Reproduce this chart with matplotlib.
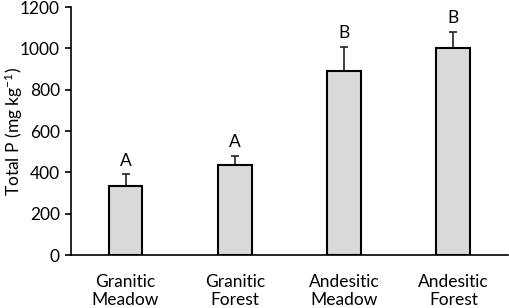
import numpy as np
import matplotlib.pyplot as plt

plt.rcParams['font.family'] = ['Lato', 'DejaVu Sans']
plt.rcParams['mathtext.default'] = 'regular'

# data
categories = ['Granitic\nMeadow', 'Granitic\nForest', 'Andesitic\nMeadow', 'Andesitic\nForest']
total_p = [333, 438, 889, 1003]
err = [57, 42, 120, 78]
letters = ['A', 'A', 'B', 'B']

fig = plt.figure(figsize=(5.10, 3.08), dpi=100)
ax = fig.add_axes([0.139, 0.172, 0.857, 0.805])

x = np.arange(len(categories))
ax.bar(x, total_p, width=0.31, color='#d9d9d9', edgecolor='black', linewidth=1.5, zorder=2)
ax.errorbar(x, total_p, yerr=[np.zeros(len(err)), err], fmt='none',
            ecolor='#222222', elinewidth=1.2, capsize=3, capthick=1.2, zorder=1)

# significance letters above the error bars
for xi, v, e, lab in zip(x, total_p, err, letters):
    ax.text(xi, v + e + 28, lab, ha='center', va='bottom', fontsize=12.5)

ax.set_xlim(-0.5, 3.5)
ax.set_ylim(0, 1200)
ax.set_yticks(np.arange(0, 1201, 200))
ax.set_xticks(x)
ax.set_xticklabels(categories, fontsize=12.5, linespacing=1.15)
ax.tick_params(axis='x', length=0, pad=14)
ax.tick_params(axis='y', labelsize=12.5, length=4, width=1.2, direction='out', pad=4)
ax.set_ylabel('Total P (mg kg$^{-1}$)', fontsize=12.5)
ax.yaxis.set_label_coords(-0.105, 0.5)

ax.spines['top'].set_visible(False)
ax.spines['right'].set_visible(False)
ax.spines['left'].set_linewidth(1.2)
ax.spines['bottom'].set_linewidth(1.2)

fig.savefig('out.png', dpi=100)
